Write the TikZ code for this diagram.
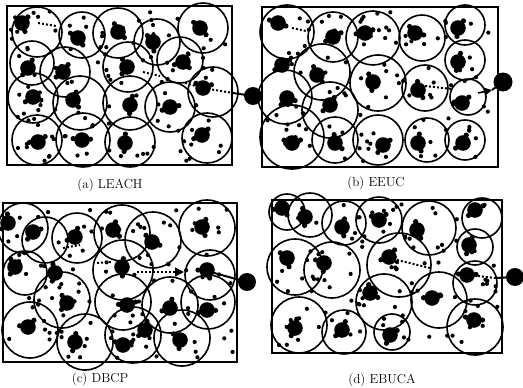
\documentclass[tikz,border=0pt]{standalone}
\usetikzlibrary{arrows.meta}
\begin{document}
\begin{tikzpicture}[x=1pt,y=-1pt,
  cir/.style={line width=1.6pt},
  frame/.style={line width=1.2pt},
  route/.style={line width=2pt, dotted},
  captext/.style={font=\fontsize{13}{15}\selectfont, anchor=center}]
\useasboundingbox (0,0) rectangle (523,388);
\newcommand\scatterdots[5]{%
  \foreach \i in {1,...,#5}{%
    \pgfmathsetmacro\px{#1+4+rnd*(#3-8)}%
    \pgfmathsetmacro\py{#2+4+rnd*(#4-8)}%
    \fill (\px,\py) circle (2.1pt);}}
\newcommand\heads[1]{%
  \foreach \hx/\hy in {#1}{%
    \fill (\hx,\hy) circle (7.8pt);
    \pgfmathsetmacro\ang{rnd*360}%
    \fill (\hx,\hy) ++(\ang:8.5) circle (2.6pt);
    \pgfmathsetmacro\angb{\ang+100+rnd*120}%
    \fill (\hx,\hy) ++(\angb:9) circle (2.6pt);}}
\pgfmathsetseed{7}
% ---------- (a) LEACH ----------
\draw[frame] (7,6) rectangle (232,165);
\foreach \x/\y/\r in {37/32/25, 82/35/23, 118/33/25, 157/42/23, 203/28/25,
  32/63/22, 65/72/25, 128/67/25, 180/60/23, 213/92/25,
  33/98/25, 80/103/27, 130/103/27, 170/107/25,
  37/140/25, 83/140/27, 130/142/25, 207/138/25}
  \draw[cir] (\x,\y) circle (\r pt);
\heads{22/23, 78/38, 118/32, 153/42, 200/28, 28/68, 63/72, 127/67, 183/62,
  203/88, 33/97, 73/100, 130/105, 170/107, 38/142, 82/140, 125/143, 202/135}
\scatterdots{7}{6}{225}{159}{110}
\fill (253,96) coordinate (sa) circle (9pt);
\coordinate (a1) at (38,23); \coordinate (a2) at (56,26);
\coordinate (a3) at (143,72); \coordinate (a4) at (160,76);
\coordinate (a5) at (185,83); \coordinate (a6) at (203,88);
\coordinate (a7) at (233,93);
\draw[route] (a1) -- (a2);
\draw[route] (a3) -- (a4);
\draw[route] (a5) -- (a6) -- (a7);
\draw[line width=2pt] (a7) -- (sa);
\node[captext] (ca) at (110,185) {(a) LEACH};
% ---------- (b) EEUC ----------
\draw[frame] (262,7) rectangle (498,167);
\foreach \x/\y/\r in {287/32/27, 333/37/25, 373/38/27, 422/38/23, 465/25/20,
  322/72/28, 378/83/28, 425/88/23, 465/60/20,
  285/97/27, 330/110/28, 468/97/18,
  292/137/32, 335/140/23, 378/140/25, 427/140/22, 465/140/20}
  \draw[cir] (\x,\y) circle (\r pt);
\heads{278/23, 333/37, 365/33, 415/33, 458/28, 282/65, 317/75, 373/82, 418/90,
  458/62, 462/103, 287/98, 330/105, 292/143, 335/143, 383/145, 418/143, 463/143}
\scatterdots{262}{7}{236}{160}{110}
\fill (503,82) coordinate (sb) circle (9.5pt);
\coordinate (b1) at (292,28); \coordinate (b2) at (306,31);
\coordinate (b3) at (425,86); \coordinate (b4) at (452,89);
\coordinate (b5) at (478,93); \coordinate (b6) at (492,90);
\draw[route] (b1) -- (b2);
\draw[route] (b3) -- (b4);
\draw[line width=1.6pt, -{Triangle[length=8pt,width=8pt]}] (b5) -- (b6);
\draw[line width=2pt] (b6) -- (sb);
\node[captext] (cb) at (376,183) {(b) EEUC};
% ---------- (c) DBCP ----------
\draw[frame] (3,203) rectangle (237,362);
\foreach \x/\y/\r in {23/228/25, 45/240/23, 77/238/25, 122/233/28, 153/240/28, 207/228/28,
  25/273/22, 123/270/30, 210/275/25,
  62/300/28, 123/302/28, 170/305/28, 208/302/27,
  30/330/28, 85/342/28, 133/335/28, 182/338/28}
  \draw[cir] (\x,\y) circle (\r pt);
\heads{8/223, 33/232, 75/237, 113/230, 152/242, 202/227, 15/267, 55/273, 122/267,
  207/270, 67/303, 127/305, 170/308, 207/310, 28/327, 75/342, 123/345, 145/330, 180/340}
\scatterdots{3}{203}{234}{159}{110}
\fill (247,282) coordinate (sc) circle (9pt);
\coordinate (c1) at (63,248); \coordinate (c2) at (80,245);
\coordinate (c3) at (97,263); \coordinate (c4) at (111,262);
\coordinate (c5) at (137,272); \coordinate (c6) at (173,272);
\coordinate (c7) at (184,272); \coordinate (c8) at (207,271);
\draw[route] (c1) -- (c2);
\draw[route] (c3) -- (c4);
\draw[route] (c5) -- (c6);
\draw[line width=1.6pt, -{Triangle[length=9pt,width=9pt]}] (c6) -- (c7);
\draw[line width=2pt] (c8) -- (sc);
\node[captext] (cc) at (100,379) {(c) DBCP};
% ---------- (d) EBUCA ----------
\draw[frame] (272,200) rectangle (502,353);
\foreach \x/\y/\r in {287/212/18, 310/215/22, 344/223/22, 379/220/23, 429/228/27, 482/218/20, 475/247/18,
  295/267/28, 332/270/28, 399/265/32, 475/283/22,
  384/302/28, 439/300/28,
  299/325/28, 344/332/22, 392/332/18, 475/327/28}
  \draw[cir] (\x,\y) circle (\r pt);
\heads{282/208, 305/217, 342/227, 379/220, 417/230, 475/210, 469/245, 287/258, 324/263,
  389/257, 370/293, 432/298, 467/275, 295/328, 342/330, 390/335, 474/320}
\scatterdots{272}{200}{230}{153}{105}
\fill (515,277) coordinate (sd) circle (9pt);
\coordinate (d1) at (397,260); \coordinate (d2) at (430,268);
\coordinate (d3) at (470,275); \coordinate (d4) at (495,278);
\draw[route] (d1) -- (d2);
\draw[route] (d3) -- (d4);
\draw[line width=2pt] (d4) -- (sd);
\node[captext] (cd) at (382,380) {(d) EBUCA};
\end{tikzpicture}
\end{document}
